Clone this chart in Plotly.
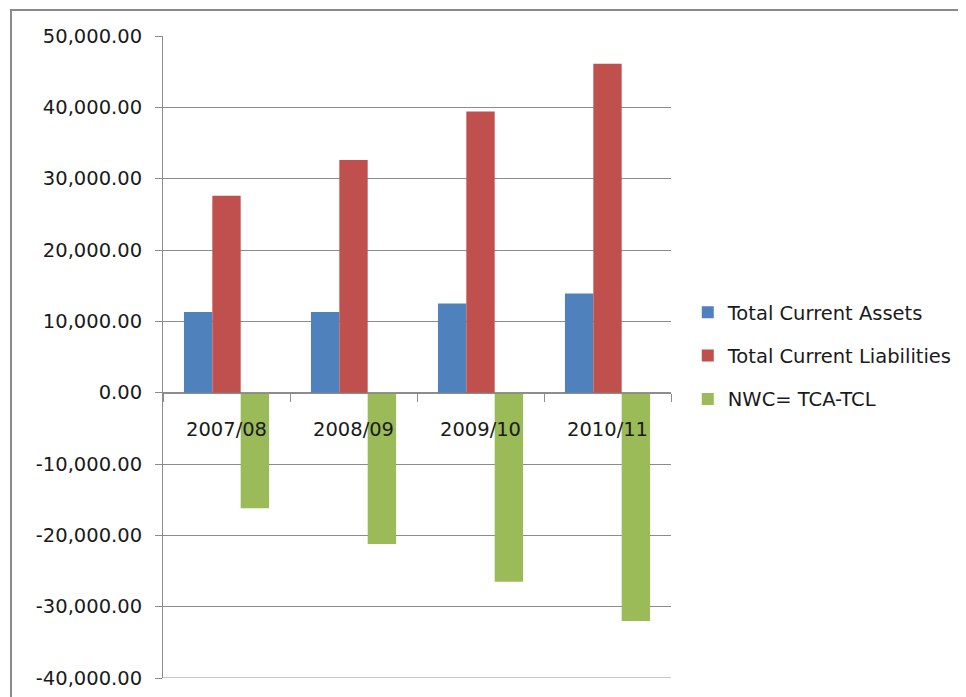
import plotly.graph_objects as go

categories = ["2007/08", "2008/09", "2009/10", "2010/11"]
total_current_assets = [11300, 11300, 12500, 13900]
total_current_liabilities = [27600, 32600, 39400, 46100]
nwc = [-16200, -21200, -26500, -32000]

series_names = ["Total Current Assets", "Total Current Liabilities", "NWC= TCA-TCL"]
series_colors = ["#4F81BD", "#C0504D", "#9BBB59"]

y_tick_values = [50000, 40000, 30000, 20000, 10000, 0, -10000, -20000, -30000, -40000]
y_tick_labels = ["50,000.00", "40,000.00", "30,000.00", "20,000.00", "10,000.00",
                 "0.00", "-10,000.00", "-20,000.00", "-30,000.00", "-40,000.00"]

FONT = "DejaVu Sans"
GRID = "#8c8c8c"
TEXT = "#1a1a1a"
FS = 19.5

fig = go.Figure()
for name, vals, col in zip(series_names,
                           [total_current_assets, total_current_liabilities, nwc],
                           series_colors):
    fig.add_trace(go.Bar(x=categories, y=vals, name=name, marker_color=col,
                         marker_line_width=0, legendgroup=name))

# page body has an 8px margin, so the plot area is offset to compensate
W, H = 966, 697
L, T = 155, 28
PW, PH = 508, 642
ymin, ymax = -40000, 50000
fig.update_layout(
    width=W, height=H,
    margin=dict(l=L, r=W - L - PW, t=T, b=H - T - PH, autoexpand=False),
    plot_bgcolor="white", paper_bgcolor="white",
    barmode="group", bargap=0.33, bargroupgap=0,
    font=dict(family=FONT, size=FS, color=TEXT),
    xaxis=dict(type="category", anchor="free", position=(0 - ymin) / (ymax - ymin),
               showline=True, linecolor=GRID, linewidth=1, automargin=False,
               ticks="outside", tickson="boundaries", ticklen=8, tickcolor=GRID,
               showgrid=False, ticklabelstandoff=19,
               tickfont=dict(family=FONT, size=FS, color=TEXT)),
    yaxis=dict(range=[ymin, ymax], tickvals=y_tick_values, ticktext=y_tick_labels,
               showline=True, linecolor=GRID, linewidth=1, automargin=False,
               ticks="outside", ticklen=7, tickcolor=GRID,
               showgrid=True, gridcolor=GRID, gridwidth=1, zeroline=False,
               ticklabelstandoff=9,
               tickfont=dict(family=FONT, size=FS, color=TEXT)),
    legend=dict(x=1.033, y=1 - (356 - 36) / PH, xanchor="left", yanchor="middle",
                traceorder="grouped", tracegroupgap=15,
                font=dict(family=FONT, size=FS, color=TEXT),
                bgcolor="rgba(0,0,0,0)"),
    shapes=[
        dict(type="rect", xref="paper", yref="paper",
             x0=(11 - 163) / PW, x1=1.8, y0=-0.2, y1=1 + (36 - 10) / PH,
             line=dict(color="#8a8a8a", width=2), fillcolor="rgba(0,0,0,0)",
             layer="below"),
        # bottom gridline (plotly omits the gridline at the range edge)
        dict(type="line", xref="paper", yref="y", x0=0, x1=1, y0=ymin, y1=ymin,
             line=dict(color=GRID, width=1), layer="below"),
    ],
)

fig.write_html("out.html")
